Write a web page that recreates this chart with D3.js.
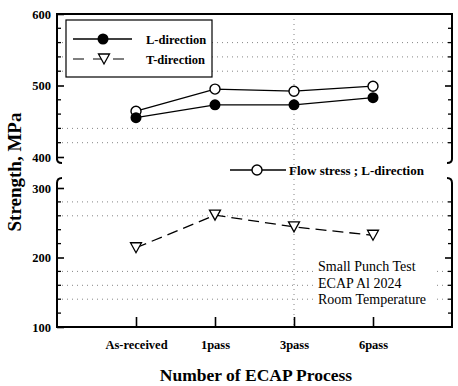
<!DOCTYPE html>
<html lang="en">
<head>
  <meta charset="UTF-8">
  <title>Strength vs Number of ECAP Process</title>
  <script src="https://d3js.org/d3.v7.min.js"></script>
  <style>
    body {
      margin: 0;
      background: #fff;
    }
    svg {
      display: block;
      font-family: "Liberation Serif", "Times New Roman", serif;
    }
    .grid line {
      stroke: #666;
      stroke-width: 0.8;
      stroke-dasharray: 1, 4;
    }
    .frame {
      fill: none;
      stroke: #000;
      stroke-width: 2;
    }
    .tick-label {
      font-weight: bold;
      font-size: 12.5px;
    }
  </style>
</head>
<body>
  <div id="chart"></div>

  <script>
    const categories = ["As-received", "1pass", "3pass", "6pass"];
    const lDirection = [455, 473, 473, 483];
    const flowStress = [464, 495, 492, 499];
    const tDirection = [214, 261, 244, 232];

    const upperTicks = [400, 500, 600];
    const lowerTicks = [100, 200, 300];
    const upperMinor = [420, 440, 460, 480, 520, 540, 560, 580];
    const lowerMinor = [120, 140, 160, 180, 220, 240, 260, 280];
    const upperGrid = [420, 440, 520, 540, 560];
    const lowerGrid = [140, 160, 180, 260, 280];
    const noteLines = ["Small Punch Test", "ECAP Al 2024", "Room Temperature"];

    const W = 458, H = 386;
    const pLeft = 57, pRight = 452, pTop = 14, pBottom = 327;

    const svg = d3.select("#chart").append("svg")
      .attr("width", W)
      .attr("height", H);

    const x = d3.scalePoint()
      .domain(categories)
      .range([pLeft, pRight])
      .padding(1);

    const yU = d3.scaleLinear().domain([400, 600]).range([157, pTop]);
    const yL = d3.scaleLinear().domain([100, 300]).range([pBottom, 188]);

    // dotted grid
    const grid = svg.append("g").attr("class", "grid");
    grid.selectAll(".gu").data(upperGrid).enter().append("line")
      .attr("x1", pLeft).attr("x2", pRight)
      .attr("y1", d => yU(d)).attr("y2", d => yU(d));
    grid.selectAll(".gl").data(lowerGrid).enter().append("line")
      .attr("x1", pLeft).attr("x2", pRight)
      .attr("y1", d => yL(d)).attr("y2", d => yL(d));
    grid.append("line")
      .attr("x1", x("3pass")).attr("x2", x("3pass"))
      .attr("y1", pTop).attr("y2", pBottom);

    // legend box (covers grid)
    svg.append("rect")
      .attr("x", 66).attr("y", 20)
      .attr("width", 146).attr("height", 57)
      .attr("fill", "#fff")
      .attr("stroke", "#000")
      .attr("stroke-width", 1.2);

    // note text with white background
    const note = svg.append("g");
    note.append("rect")
      .attr("x", 316).attr("y", 258)
      .attr("width", 117).attr("height", 51)
      .attr("fill", "#fff");
    note.selectAll("text").data(noteLines).enter().append("text")
      .attr("x", 318)
      .attr("y", (d, i) => 271 + i * 16.5)
      .style("font-size", "14px")
      .text(d => d);

    // data lines
    const lineU = d3.line()
      .x((d, i) => x(categories[i]))
      .y(d => yU(d));
    const lineL = d3.line()
      .x((d, i) => x(categories[i]))
      .y(d => yL(d));

    svg.append("path").attr("d", lineU(flowStress))
      .attr("fill", "none").attr("stroke", "#000").attr("stroke-width", 1.3);
    svg.append("path").attr("d", lineU(lDirection))
      .attr("fill", "none").attr("stroke", "#000").attr("stroke-width", 1.3);
    svg.append("path").attr("d", lineL(tDirection))
      .attr("fill", "none").attr("stroke", "#000").attr("stroke-width", 1.3)
      .attr("stroke-dasharray", "11,6");

    function tri(cx, cy) {
      return `M${cx - 5.5},${cy - 5} L${cx + 5.5},${cy - 5} L${cx},${cy + 5} Z`;
    }

    svg.selectAll(".open").data(flowStress).enter().append("circle")
      .attr("cx", (d, i) => x(categories[i]))
      .attr("cy", d => yU(d))
      .attr("r", 5)
      .attr("fill", "#fff").attr("stroke", "#000").attr("stroke-width", 1.4);
    svg.selectAll(".filled").data(lDirection).enter().append("circle")
      .attr("cx", (d, i) => x(categories[i]))
      .attr("cy", d => yU(d))
      .attr("r", 5.5)
      .attr("fill", "#000");
    svg.selectAll(".tri").data(tDirection).enter().append("path")
      .attr("d", (d, i) => tri(x(categories[i]), yL(d)))
      .attr("fill", "#fff").attr("stroke", "#000").attr("stroke-width", 1.3);

    // legend entries
    svg.append("line").attr("x1", 73).attr("x2", 132).attr("y1", 39).attr("y2", 39)
      .attr("stroke", "#000").attr("stroke-width", 1.3);
    svg.append("circle").attr("cx", 103).attr("cy", 39).attr("r", 5.5).attr("fill", "#000");
    svg.append("text").attr("x", 146).attr("y", 43.5)
      .style("font-weight", "bold").style("font-size", "12.5px").text("L-direction");

    svg.append("line").attr("x1", 73).attr("x2", 132).attr("y1", 59).attr("y2", 59)
      .attr("stroke", "#000").attr("stroke-width", 1.1).attr("stroke-dasharray", "11,9");
    svg.append("path").attr("d", tri(104, 59))
      .attr("fill", "#fff").attr("stroke", "#000").attr("stroke-width", 1.3);
    svg.append("text").attr("x", 146).attr("y", 63.5)
      .style("font-weight", "bold").style("font-size", "12.5px").text("T-direction");

    svg.append("line").attr("x1", 230).attr("x2", 286).attr("y1", 170).attr("y2", 170)
      .attr("stroke", "#000").attr("stroke-width", 1.3);
    svg.append("circle").attr("cx", 257).attr("cy", 170).attr("r", 5)
      .attr("fill", "#fff").attr("stroke", "#000").attr("stroke-width", 1.4);
    svg.append("text").attr("x", 289).attr("y", 174.5)
      .style("font-weight", "bold").style("font-size", "13px").text("Flow stress ; L-direction");

    // frame with axis breaks
    svg.append("path").attr("class", "frame")
      .attr("d", `M${pLeft},160 V${pTop} H${pRight} V159 Q${pRight},163 ${pRight - 5},163`);
    svg.append("path").attr("class", "frame")
      .attr("d", `M${pLeft},159 Q${pLeft},163 ${pLeft + 5},163`);
    svg.append("path").attr("class", "frame")
      .attr("d", `M${pLeft + 5},178 Q${pLeft},178 ${pLeft},183 V${pBottom} H${pRight} V183 Q${pRight},178 ${pRight - 5},178`);

    // minor ticks, both sides
    const minor = svg.append("g").attr("stroke", "#000").attr("stroke-width", 1.3);
    const minorPos = upperMinor.map(v => yU(v)).concat(lowerMinor.map(v => yL(v)));
    minor.selectAll(".ml").data(minorPos).enter().append("line")
      .attr("x1", pLeft).attr("x2", pLeft + 4).attr("y1", d => d).attr("y2", d => d);
    minor.selectAll(".mr").data(minorPos).enter().append("line")
      .attr("x1", pRight - 4).attr("x2", pRight).attr("y1", d => d).attr("y2", d => d);

    // major y axes
    function styleAxis(g) {
      g.select(".domain").remove();
      g.selectAll(".tick line").attr("stroke-width", 1.6);
      g.selectAll(".tick text").attr("class", "tick-label")
        .attr("fill", "#000");
      g.attr("font-family", null).attr("font-size", null);
    }
    svg.append("g").attr("transform", `translate(${pLeft},0)`)
      .call(d3.axisLeft(yU).tickValues(upperTicks).tickSize(-7).tickPadding(6))
      .call(styleAxis);
    svg.append("g").attr("transform", `translate(${pLeft},0)`)
      .call(d3.axisLeft(yL).tickValues(lowerTicks).tickSize(-7).tickPadding(6))
      .call(styleAxis);
    svg.append("g").attr("transform", `translate(${pRight},0)`)
      .call(d3.axisRight(yU).tickValues([500]).tickSize(-7).tickFormat(""))
      .call(styleAxis);
    svg.append("g").attr("transform", `translate(${pRight},0)`)
      .call(d3.axisRight(yL).tickValues([200]).tickSize(-7).tickFormat(""))
      .call(styleAxis);

    // x axis
    svg.append("g").attr("transform", `translate(0,${pBottom})`)
      .call(d3.axisBottom(x).tickSize(-10).tickPadding(13))
      .call(styleAxis);

    // axis titles
    svg.append("text")
      .attr("transform", "translate(21,172) rotate(-90)")
      .attr("text-anchor", "middle")
      .style("font-weight", "bold").style("font-size", "19px")
      .text("Strength, MPa");
    svg.append("text")
      .attr("x", 256).attr("y", 381)
      .attr("text-anchor", "middle")
      .style("font-weight", "bold").style("font-size", "17.5px")
      .text("Number of ECAP Process");
  </script>
</body>
</html>
